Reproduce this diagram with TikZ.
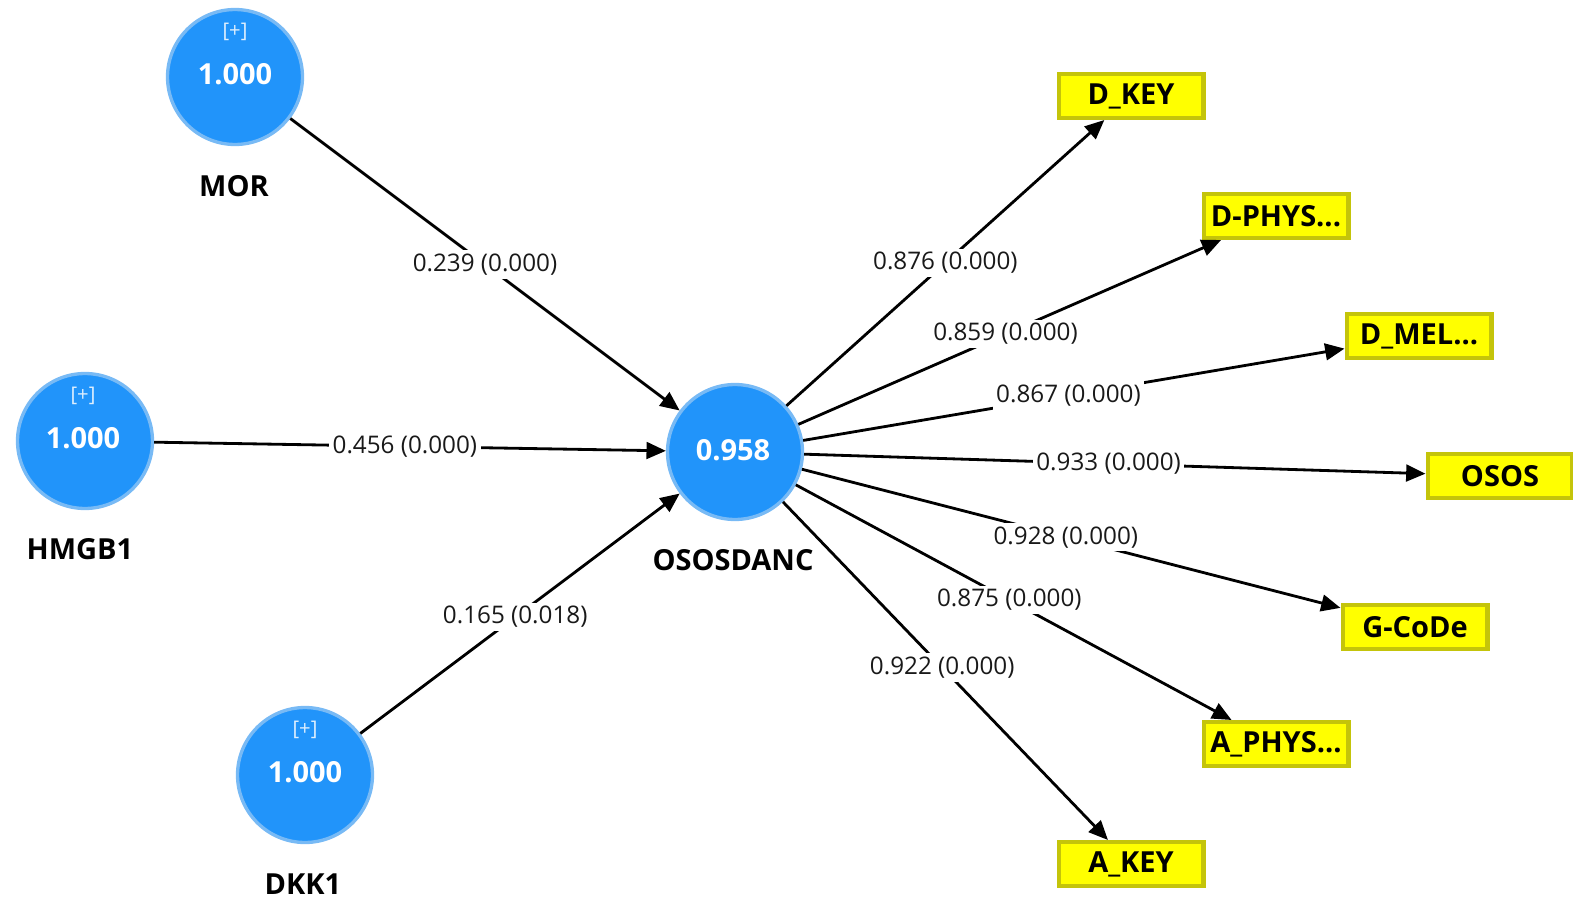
\documentclass[tikz,border=0pt]{standalone}
\usepackage{fontspec}
\setmainfont{Open Sans}
\usetikzlibrary{arrows.meta}
\definecolor{lvblue}{RGB}{33,148,250}
\definecolor{lvrim}{RGB}{120,186,245}
\definecolor{mvfill}{RGB}{255,255,0}
\definecolor{mvrim}{RGB}{196,196,10}
\begin{document}
\begin{tikzpicture}[x=0.02cm,y=-0.02cm,
  lv/.style={circle,fill=lvblue,draw=lvrim,line width=1.9pt,minimum size=2.7cm,inner sep=0pt},
  mv/.style={rectangle,fill=mvfill,draw=mvrim,line width=2.3pt,minimum width=2.9cm,minimum height=0.88cm,inner sep=0pt,font=\fontsize{16.5}{18}\selectfont\bfseries},
  val/.style={text=white,font=\fontsize{16.5}{18}\selectfont\bfseries,inner sep=0pt},
  plus/.style={text=white!85!lvblue,font=\fontsize{11.5}{13}\selectfont,inner sep=0pt},
  lvname/.style={text=black,font=\fontsize{16.5}{18}\selectfont\bfseries,inner sep=0pt},
  arr/.style={line width=1.6pt,-{Triangle[length=11pt,width=9.5pt]}},
  elbl/.style={fill=white,inner sep=2pt,text=black!90,font=\fontsize{13.8}{15}\selectfont}]
\useasboundingbox (0,0) rectangle (1573,906);
% latent variables
\node[lv] (mor) at (235,77) {};
\node[plus] (morp) at (235,32) {[+]};
\node[val] (morv) at (235,74) {1.000};
\node[lvname] (morn) at (234,186) {MOR};

\node[lv] (hmgb) at (85,441) {};
\node[plus] (hmgbp) at (83,396) {[+]};
\node[val] (hmgbv) at (83,438) {1.000};
\node[lvname] (hmgbn) at (80,549) {HMGB1};

\node[lv] (dkk) at (305,775) {};
\node[plus] (dkkp) at (305,730) {[+]};
\node[val] (dkkv) at (305,772) {1.000};
\node[lvname] (dkkn) at (303,884) {DKK1};

\node[lv] (ososd) at (735,452) {};
\node[val] (ososdv) at (733,450) {0.958};
\node[lvname] (ososdn) at (733,560) {OSOSDANC};

% indicators
\node[mv] (dkey) at (1131,96) {D\_KEY};
\node[mv] (dphys) at (1276,216) {D-PHYS...};
\node[mv] (dmel) at (1419,336) {D\_MEL...};
\node[mv] (osos) at (1500,476) {OSOS};
\node[mv] (gcode) at (1415,627) {G-CoDe};
\node[mv] (aphys) at (1276,744) {A\_PHYS...};
\node[mv] (akey) at (1131,864) {A\_KEY};

% paths
\draw[arr] (mor) -- node[elbl,pos=0.5] (l1) {0.239 (0.000)} (ososd);
\draw[arr] (hmgb) -- node[elbl,pos=0.49] (l2) {0.456 (0.000)} (ososd);
\draw[arr] (dkk) -- node[elbl,pos=0.485] (l3) {0.165 (0.018)} (ososd);

\draw[arr] (ososd) -- node[elbl,pos=0.5] (l4) {0.876 (0.000)} (dkey);
\draw[arr] (ososd) -- node[elbl,pos=0.49] (l5) {0.859 (0.000)} (dphys);
\draw[arr] (ososd) -- node[elbl,pos=0.49] (l6) {0.867 (0.000)} (dmel);
\draw[arr] (ososd) -- node[elbl,pos=0.49] (l7) {0.933 (0.000)} (osos);
\draw[arr] (ososd) -- node[elbl,pos=0.49] (l8) {0.928 (0.000)} (gcode);
\draw[arr] (ososd) -- node[elbl,pos=0.49] (l9) {0.875 (0.000)} (aphys);
\draw[arr] (ososd) -- node[elbl,pos=0.49] (l10) {0.922 (0.000)} (akey);
\end{tikzpicture}
\end{document}
